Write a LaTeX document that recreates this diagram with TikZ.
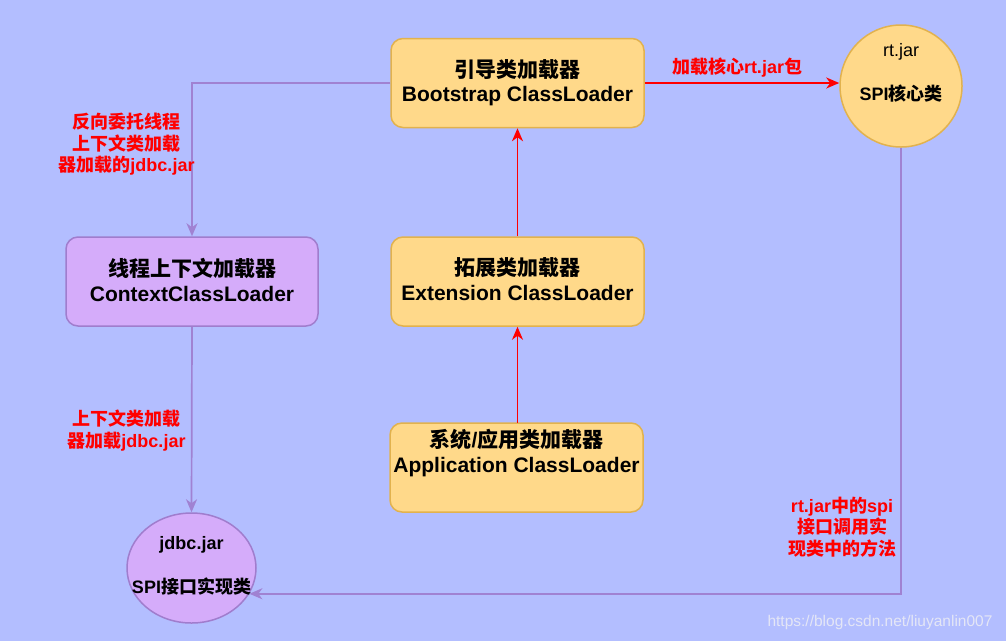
\documentclass[tikz,border=0pt]{standalone}
\usepackage{fontspec}
\setmainfont{Liberation Sans}
\newfontfamily\cjk{Noto Sans CJK SC}
\usetikzlibrary{arrows.meta,shapes.geometric}
\newcommand\zh[1]{{\cjk #1}}
\definecolor{bgc}{RGB}{179,190,255}
\definecolor{yfill}{RGB}{255,217,138}
\definecolor{ydraw}{RGB}{226,178,78}
\definecolor{pfill}{RGB}{213,172,250}
\definecolor{pdraw}{RGB}{160,125,205}
\definecolor{pline}{RGB}{160,130,210}
\definecolor{redc}{RGB}{255,0,0}
\definecolor{wmc}{RGB}{228,230,246}
\tikzset{
  ybox/.style={draw=ydraw, fill=yfill, line width=1.5pt, rounded corners=12pt, minimum width=253pt, minimum height=89pt, inner sep=0pt, align=center, font=\fontsize{21}{24}\selectfont\bfseries},
  pbox/.style={draw=pdraw, fill=pfill, line width=1.5pt, rounded corners=12pt, minimum width=252pt, minimum height=89pt, inner sep=0pt, align=center, font=\fontsize{21}{24}\selectfont\bfseries},
  ytxt/.style={align=center, inner sep=0pt, font=\fontsize{21}{25}\selectfont\bfseries},
  ctxt/.style={align=center, inner sep=0pt, font=\fontsize{18}{22}\selectfont\bfseries},
  lbl/.style={align=center, inner sep=0pt, text=redc, font=\fontsize{18}{21.5}\selectfont\bfseries},
  redarr/.style={draw=redc, line width=1.7pt, -{Stealth[length=13pt,width=11pt,inset=4pt]}},
  purarr/.style={draw=pline, line width=1.7pt, -{Stealth[length=13pt,width=11pt,inset=4pt]}},
}
\begin{document}
\begin{tikzpicture}[x=1pt,y=-1pt]
\fill[bgc] (0,0) rectangle (1006,641);
\useasboundingbox (0,0) rectangle (1006,641);

\node[ybox] (boot) at (517.5,83) {\zh{引导类加载器}\\Bootstrap ClassLoader};
\node[ybox] (ext) at (517.5,281.5) {};
\node[ytxt] (exttxt) at (517.5,279) {\zh{拓展类加载器}\\Extension ClassLoader};
\node[ybox] (app) at (516.5,467.5) {};
\node[ytxt] (apptxt) at (516.5,453) {\zh{系统}/\zh{应用类加载器}\\Application ClassLoader};
\node[pbox] (ctx) at (192,281.5) {};
\node[ytxt] (ctxtxt) at (192,280) {\zh{线程上下文加载器}\\ContextClassLoader};

\node[circle, draw=ydraw, fill=yfill, line width=1.5pt, minimum size=122pt, inner sep=0pt] (rt) at (901,86) {};
\node[ctxt] (rttxt) at (901,73) {\mdseries rt.jar\\[22pt]SPI\zh{核心类}};

\node[ellipse, draw=pdraw, fill=pfill, line width=1.5pt, minimum width=129pt, minimum height=110pt, inner sep=0pt] (jdbc) at (191.5,568) {};
\node[ctxt] (jdbctxt) at (191.5,566) {jdbc.jar\\[22pt]SPI\zh{接口实现类}};

\draw[redarr] (ext.north) -- (boot.south);
\draw[redarr] (app.north) -- (ext.north |- app.north) -- (ext.south);
\draw[redarr] (boot.east) -- (boot.east -| rt.west);
\draw[purarr] (boot.west) -| (ctx.north);
\draw[purarr] (ctx.south) -- (jdbc.north);
\draw[purarr] (rt.south) |- (jdbc.-24);

\node[lbl] (l1) at (737,68) {\zh{加载核心}rt.jar\zh{包}};
\node[lbl] (l2) at (126.5,144.5) {\zh{反向委托线程}\\\zh{上下文类加载}\\\zh{器加载的}jdbc.jar};
\node[lbl] (l3) at (126.5,430.5) {\zh{上下文类加载}\\\zh{器加载}jdbc.jar};
\node[lbl] (l4) at (842,527) {rt.jar\zh{中的}spi\\\zh{接口调用实}\\\zh{现类中的方法}};

\node[inner sep=0pt, text=wmc, font=\fontsize{15.5}{18}\selectfont] (wm) at (880,622) {https://blog.csdn.net/liuyanlin007};
\end{tikzpicture}
\end{document}
